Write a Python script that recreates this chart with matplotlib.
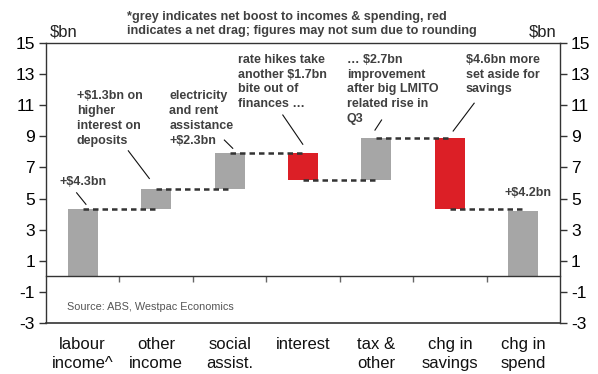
import matplotlib
matplotlib.use("Agg")
import matplotlib.pyplot as plt
import matplotlib.transforms as mtransforms

plt.rcParams['font.family'] = ['Liberation Sans', 'DejaVu Sans']

categories = ["labour\nincome^", "other\nincome", "social\nassist.", "interest",
              "tax &\nother", "chg in\nsavings", "chg in\nspend"]
changes = [4.3, 1.3, 2.3, -1.7, 2.7, -4.6]   # $bn contributions
spend_total = 4.2                           # $bn change in spending

GREY = "#a6a6a6"
RED = "#dc1f26"
TEXT = "#404040"

fig = plt.figure(figsize=(5.98, 3.74), dpi=100)
ax = fig.add_axes([46 / 598, 1 - 323 / 374, 514 / 598, 280 / 374])

# waterfall bars
levels = []
run = 0.0
bar_w = 0.41
for i, v in enumerate(changes):
    bottom = run if v >= 0 else run + v
    ax.bar(i, abs(v), bottom=bottom, width=bar_w,
           color=GREY if v >= 0 else RED, zorder=2)
    run += v
    levels.append(run)
ax.bar(len(changes), spend_total, bottom=0, width=bar_w, color=GREY, zorder=2)

# dashed connectors between bar centres
for i, lvl in enumerate(levels):
    ax.plot([i, i + 1], [lvl, lvl], color="#333333", lw=1.8,
            linestyle=(0, (2.2, 1.6)), zorder=3, solid_capstyle='butt')

ax.set_xlim(-0.5, len(categories) - 0.5)
ax.set_ylim(-3, 15)
yt = list(range(-3, 16, 2))
ax.set_yticks(yt)
ax.set_yticklabels([str(t) for t in yt])
ax.tick_params(axis='y', labelsize=12.5, length=5, width=1, color="#333333",
               pad=3, direction='out', left=True, right=True,
               labelleft=True, labelright=True)

# x axis sits on zero with ticks between categories
ax.spines['bottom'].set_position(('data', 0))
ax.set_xticks([i + 0.5 for i in range(len(categories) - 1)])
ax.set_xticklabels([])
ax.tick_params(axis='x', length=4, width=1, color="#666666", direction='out')
for s in ['left', 'right', 'top', 'bottom']:
    ax.spines[s].set_color("#333333")
    ax.spines[s].set_linewidth(1.0)
ax.axhline(-3, color="#333333", lw=1.2, clip_on=False, zorder=4)

# category labels under the frame
trans = mtransforms.blended_transform_factory(ax.transData, fig.transFigure)
for i, c in enumerate(categories):
    ax.text(i, 1 - 337 / 374, c, transform=trans, ha='center', va='top',
            fontsize=12, linespacing=1.3, color="#111111")

# annotations
ann = dict(fontsize=9, fontweight='bold', color=TEXT, va='top', ha='left',
           linespacing=1.3, zorder=5)
ax.text(-0.31, 6.45, "+$4.3bn", **ann)
ax.text(-0.08, 11.95, "+$1.3bn on\nhigher\ninterest on\ndeposits", **ann)
ax.text(1.18, 11.95, "electricity\nand rent\nassistance\n+$2.3bn", **ann)
ax.text(2.116, 14.3, "rate hikes take\nanother $1.7bn\nbite out of\nfinances \u2026", **ann)
ax.text(3.597, 14.3, "\u2026 $2.7bn\nimprovement\nafter big LMITO\nrelated rise in\nQ3", **ann)
ax.text(5.218, 14.3, "$4.6bn more\nset aside for\nsavings", **ann)
ax.text(5.74, 5.75, "+$4.2bn", **ann)

leaders = [((-0.083, 5.37), (0.044, 4.63)),
           ((0.621, 8.07), (0.907, 6.29)),
           ((1.929, 8.76), (2.043, 8.23)),
           ((2.725, 10.37), (2.997, 8.49)),
           ((4.07, 10.05), (3.98, 9.4)),
           ((5.331, 11.13), (5.045, 9.34))]
for (x0, y0), (x1, y1) in leaders:
    ax.plot([x0, x1], [y0, y1], color="#111111", lw=0.8, zorder=5)

ax.text(-0.22, -1.97, "Source: ABS, Westpac Economics", fontsize=7.8,
        color="#555555", va='center', ha='left')

# header texts
fig.text(50 / 598, 1 - 36.5 / 374, "$bn", fontsize=12, color="#222222",
         ha='left', va='baseline')
fig.text(557 / 598, 1 - 36.5 / 374, "$bn", fontsize=12, color="#222222",
         ha='right', va='baseline')
fig.text(126.7 / 598, 1 - 11 / 374,
         "*grey indicates net boost to incomes & spending, red\n"
         "indicates a net drag; figures may not sum due to rounding",
         fontsize=9.1, fontweight='bold', color=TEXT, ha='left', va='top',
         linespacing=1.22)

fig.savefig("out.png", dpi=100)
